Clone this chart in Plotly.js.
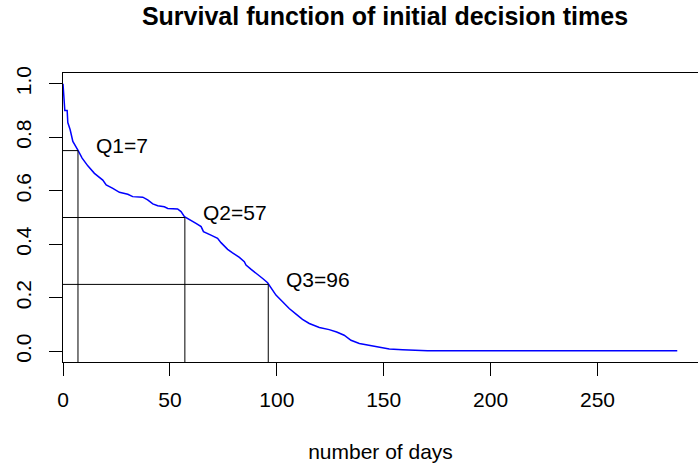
<!DOCTYPE html>
<html>
<head>
<meta charset="utf-8">
<script src="https://cdn.plot.ly/plotly-3.0.1.min.js"></script>
<style>html,body{margin:0;padding:0;background:#fff;}#chart{width:698px;height:473px;}</style>
</head>
<body>
<div id="chart"></div>
<script>
// Survival curve (days, survival probability)
const days = [0, 0.4, 0.85, 1.95, 2.25, 3.35, 4.6, 6.9, 8.95, 11.6, 14.7, 18.6, 20.2, 23.3, 26.4, 30.3, 32.6, 37.3, 39.6, 42, 44.3, 47.4, 49, 53.6, 55.2, 56.8, 59.1, 62.2, 64.6, 65.7, 69.2, 72.3, 73.9, 77, 79.3, 82.5, 84.8, 85.6, 88, 91, 93.4, 95.7, 97.3, 99.6, 102.7, 105.8, 109, 112, 115.2, 119.9, 124.5, 128, 131.5, 134.7, 138.6, 143.2, 147.9, 152.6, 158.8, 163.5, 170.5, 287.3];
const survival = [1.0, 0.965, 0.90, 0.90, 0.855, 0.828, 0.784, 0.753, 0.722, 0.693, 0.665, 0.640, 0.622, 0.609, 0.594, 0.587, 0.578, 0.576, 0.566, 0.551, 0.544, 0.540, 0.534, 0.532, 0.522, 0.503, 0.491, 0.478, 0.466, 0.447, 0.434, 0.422, 0.406, 0.381, 0.368, 0.351, 0.335, 0.322, 0.306, 0.288, 0.272, 0.256, 0.235, 0.210, 0.185, 0.160, 0.139, 0.119, 0.104, 0.089, 0.081, 0.072, 0.060, 0.041, 0.029, 0.022, 0.014, 0.009, 0.006, 0.005, 0.002, 0.002];

// Quartiles
const quartileDays = [7, 57, 96];
const quartileProbs = [0.75, 0.5, 0.25];
const quartileLabels = ["Q1=7", "Q2=57", "Q3=96"];

// Axis ticks
const xTicks = [0, 50, 100, 150, 200, 250];
const yTicks = [0.0, 0.2, 0.4, 0.6, 0.8, 1.0];
const yTickText = ["0.0", "0.2", "0.4", "0.6", "0.8", "1.0"];

const yRange = [-0.04, 1.04];
const xRange = [0, 297];

const shapes = [];
const annotations = [];
for (let i = 0; i < quartileDays.length; i++) {
  shapes.push({type: 'line', xref: 'x', yref: 'y', x0: xRange[0], x1: quartileDays[i], y0: quartileProbs[i], y1: quartileProbs[i], line: {color: 'black', width: 1}});
  shapes.push({type: 'line', xref: 'x', yref: 'y', x0: quartileDays[i], x1: quartileDays[i], y0: yRange[0], y1: quartileProbs[i], line: {color: 'black', width: 1}});
  annotations.push({x: quartileDays[i], y: quartileProbs[i], xref: 'x', yref: 'y', text: quartileLabels[i], showarrow: false, xanchor: 'left', yanchor: 'middle', xshift: 16, yshift: 5, font: {family: 'Liberation Sans, Arial, sans-serif', size: 21, color: 'black'}});
}

const trace = {x: days, y: survival, type: 'scatter', mode: 'lines', line: {shape: 'linear', color: '#0000FF', width: 1.5}, hoverinfo: 'skip'};

const font = {family: 'Liberation Sans, Arial, sans-serif', size: 21, color: 'black'};
const layout = {
  width: 698, height: 473,
  margin: {l: 63, r: 0, t: 73, b: 111, pad: 0},
  paper_bgcolor: 'white', plot_bgcolor: 'white',
  font: font,
  showlegend: false,
  title: {text: '<b>Survival function of initial decision times</b>', font: {family: 'Liberation Sans, Arial, sans-serif', size: 25, color: 'black'}, x: 0.5516, xanchor: 'center', xref: 'container', y: 0.966, yanchor: 'middle', yref: 'container'},
  xaxis: {range: xRange, tickvals: xTicks, ticks: 'outside', ticklen: 13, tickwidth: 1, tickcolor: 'black', showgrid: false, zeroline: false, showline: true, linecolor: 'black', linewidth: 1, mirror: true, tickfont: font, ticklabelstandoff: 6,
    title: {text: 'number of days', font: font, standoff: 34}},
  yaxis: {range: yRange, tickvals: yTicks, ticktext: yTickText, tickangle: -90, ticks: 'outside', ticklen: 13, tickwidth: 1, tickcolor: 'black', showgrid: false, zeroline: false, showline: true, linecolor: 'black', linewidth: 1, mirror: false, tickfont: font, ticklabelstandoff: 10},
  shapes: shapes,
  annotations: annotations
};

Plotly.newPlot('chart', [trace], layout, {staticPlot: true, displayModeBar: false});
</script>
</body>
</html>
